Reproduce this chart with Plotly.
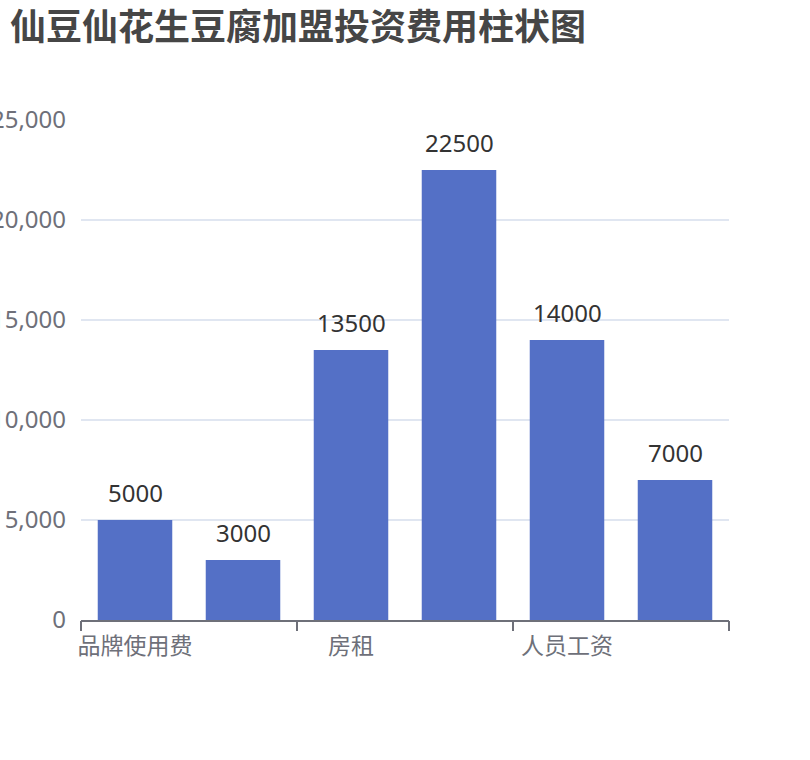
import plotly.graph_objects as go

categories = ["品牌使用费", "保证金", "房租", "装修费", "人员工资", "设备费"]
values = [5000, 3000, 13500, 22500, 14000, 7000]
shown_labels = ["品牌使用费", "房租", "人员工资"]
y_ticks = [0, 5000, 10000, 15000, 20000, 25000]
y_tick_text = ["0", "5,000", "10,000", "15,000", "20,000", "25,000"]

FONT = "Noto Sans, Noto Sans CJK SC, sans-serif"

n = len(categories)
# category boundary ticks (every second boundary, like the reference)
boundary_ticks = [i - 0.5 for i in range(0, n + 1, 2)]

fig = go.Figure()
fig.add_trace(go.Bar(
    x=categories, y=values,
    width=0.69,
    marker=dict(color="#5470c6", line=dict(width=0)),
    hoverinfo="x+y",
))
# invisible helper trace so the boundary-tick axis is drawn
fig.add_trace(go.Scatter(
    x=boundary_ticks, y=[0] * len(boundary_ticks),
    xaxis="x2", yaxis="y", mode="none", hoverinfo="skip", showlegend=False,
))

for c, v in zip(categories, values):
    fig.add_annotation(
        x=c, y=v, text=str(v), showarrow=False,
        xanchor="center", yanchor="bottom", yshift=9,
        font=dict(size=24, color="#333333", family=FONT),
    )

fig.update_layout(
    width=810, height=760,
    margin=dict(l=81, r=81, t=120, b=140, autoexpand=False),
    paper_bgcolor="white", plot_bgcolor="white",
    showlegend=False,
    bargap=0.3,
    title=dict(
        text="<b>仙豆仙花生豆腐加盟投资费用柱状图</b>",
        x=10/810, xanchor="left", xref="container",
        y=1 - 27/760, yanchor="middle", yref="container",
        font=dict(size=36, color="#464646", family="Noto Sans CJK SC, sans-serif"),
    ),
    font=dict(family=FONT),
    xaxis=dict(
        type="category",
        categoryorder="array", categoryarray=categories,
        range=[-0.5, n - 0.5],
        tickmode="array",
        tickvals=categories[0::2],
        ticktext=shown_labels,
        tickangle=0,
        ticks="",
        showline=True, linecolor="#6e7079", linewidth=2,
        showgrid=False,
        ticklabelstandoff=4,
        tickfont=dict(size=23, color="#6e7079", family=FONT),
        automargin=False,
    ),
    xaxis2=dict(
        overlaying="x", anchor="y", side="bottom",
        range=[-0.5, n - 0.5],
        tickmode="array", tickvals=boundary_ticks,
        showticklabels=False,
        ticks="outside", ticklen=10, tickwidth=2, tickcolor="#6e7079",
        showline=False, showgrid=False, zeroline=False,
        automargin=False,
    ),
    yaxis=dict(
        range=[0, 25000],
        tickmode="array", tickvals=y_ticks, ticktext=y_tick_text,
        showgrid=True, gridcolor="#e0e6f1", gridwidth=2,
        zeroline=False, showline=False, ticks="",
        ticklabelstandoff=14,
        tickfont=dict(size=24, color="#6e7079", family=FONT),
        automargin=False,
    ),
)

fig.write_html("out.html", config={"displayModeBar": False},
               post_script="document.body.style.margin='0px';")
